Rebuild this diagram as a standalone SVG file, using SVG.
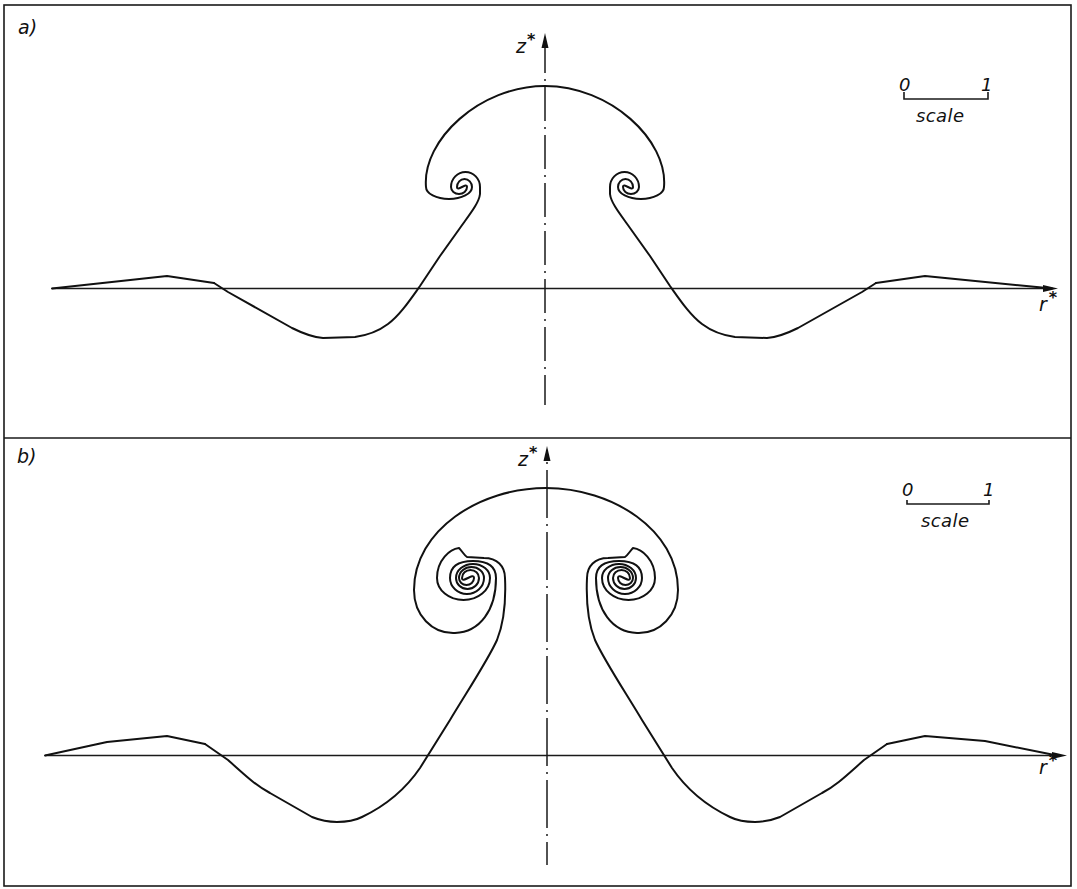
<svg xmlns="http://www.w3.org/2000/svg" xmlns:xlink="http://www.w3.org/1999/xlink" width="1077" height="889" viewBox="0 0 1077 889">
<style>
.frame{fill:none;stroke:#1a1a1a;stroke-width:1.6}
.curve{fill:none;stroke:#111;stroke-width:2;stroke-linejoin:round;stroke-linecap:round}
.axis{fill:none;stroke:#1a1a1a;stroke-width:1.5}
.sym{fill:none;stroke:#1a1a1a;stroke-width:1.5}
.head{fill:#111;stroke:none}
.bar{fill:none;stroke:#1a1a1a;stroke-width:1.6}
.lbl{font-family:"DejaVu Sans","Liberation Sans",sans-serif;font-style:oblique;font-size:18px;fill:#111}
.big{font-size:19px}
.star{font-family:"DejaVu Sans",sans-serif;font-weight:bold;font-style:normal;font-size:16px}
</style>
<rect width="1077" height="889" fill="#fff"/>
<g id="frame">
<rect class="frame" x="4" y="5" width="1067" height="881"/>
<line class="frame" x1="4" y1="438" x2="1071" y2="438"/>
</g>

<g id="panel-a">
<g id="axes-a">
<line class="axis" x1="52" y1="288.5" x2="1046" y2="288.5"/>
<polygon class="head" points="1058,288.5 1043,285 1043,292"/>
<line class="sym" x1="545" y1="39" x2="545" y2="405" stroke-dasharray="34 6 2 6"/>
<polygon class="head" points="545,33 541.5,48 548.5,48"/>
</g>
<g id="curve-a">
<path id="halfA" class="curve" d="M 214,283 L 228,292 L 292,328 C 300,332 310,337 323,338 L 355,337 C 370,335 380,330 388,324 C 400,315 410,300 420,286 L 440,256 L 460,228 C 470,214 479,203 480,194 L 480,187 A 14.5 15 0 0 0 451,187 A 8 7 0 0 0 467,187 C 467,182 457,192 457,187 A 7.5 8 0 0 1 472,187 A 23 12 0 0 1 426,187 C 422,140 480,86 545,86"/>
<use xlink:href="#halfA" href="#halfA" transform="matrix(-1 0 0 1 1090 0)"/>
<polyline class="curve" points="52,288.5 167,276 214,283"/>
<polyline class="curve" points="1052,288.5 925,276 876,283"/>
</g>
<g id="labels-a">
<text class="lbl big" x="18" y="34">a)</text>
<text class="lbl big" x="516" y="53">z<tspan class="star" dx="1" dy="-8">*</tspan></text>
<text class="lbl big" x="1039" y="311">r<tspan class="star" dx="2" dy="-8">*</tspan></text>
</g>
<g id="scale-a">
<polyline class="bar" points="904,92 904,99 988,99 988,92"/>
<text class="lbl" x="899" y="91">0</text>
<text class="lbl" x="981" y="91">1</text>
<text class="lbl" x="916" y="122" letter-spacing="0.4">scale</text>
</g>
</g>

<g id="panel-b">
<g id="axes-b">
<line class="axis" x1="45" y1="755.5" x2="1055" y2="755.5"/>
<polygon class="head" points="1067,755.5 1052,752 1052,759"/>
<line class="sym" x1="547" y1="450" x2="547" y2="865" stroke-dasharray="48 6 2 6" stroke-dashoffset="42"/>
<polygon class="head" points="547,446 543.5,461 550.5,461"/>
</g>
<g id="curve-b">
<path id="halfB" class="curve" d="M 205,744 L 228,760 C 245,775 255,785 270,793 L 312,817 C 322,821 330,822 337,822 C 348,822 356,820 362,817 C 385,806 405,790 420,768 L 450,720 C 468,690 488,660 497,640 C 505,620 506,600 505,578 C 505,566 497,558 484,558 L 467,557 C 464,555 462,551 459,548 C 450,549 437,560 437,578 A 26.5 22 0 0 0 490,578 A 17 14 0 0 0 456,578 A 11.5 11 0 0 0 479,578 A 8.5 8 0 0 0 462,578 C 462,584 474,572 474,578 A 7.5 7 0 0 1 459,578 A 12.5 11 0 0 1 484,578 A 17 16 0 0 1 450,578 C 450,565 460,561 473,561 C 488,561 496,566 496,578 C 496,610 480,632 455,633 C 432,634 414,615 414,590 C 414,530 480,488 546,488"/>
<use xlink:href="#halfB" href="#halfB" transform="matrix(-1 0 0 1 1092 0)"/>
<polyline class="curve" points="45,755.5 107,742 167,736 205,744"/>
<polyline class="curve" points="1057,755.5 985,741 925,736 887,744"/>
</g>
<g id="labels-b">
<text class="lbl big" x="17" y="463">b)</text>
<text class="lbl big" x="518" y="466">z<tspan class="star" dx="1" dy="-8">*</tspan></text>
<text class="lbl big" x="1039" y="774">r<tspan class="star" dx="2" dy="-8">*</tspan></text>
</g>
<g id="scale-b">
<polyline class="bar" points="907,500 907,504 989,504 989,500"/>
<text class="lbl" x="902" y="496">0</text>
<text class="lbl" x="983" y="496">1</text>
<text class="lbl" x="921" y="527" letter-spacing="0.4">scale</text>
</g>
</g>
</svg>
